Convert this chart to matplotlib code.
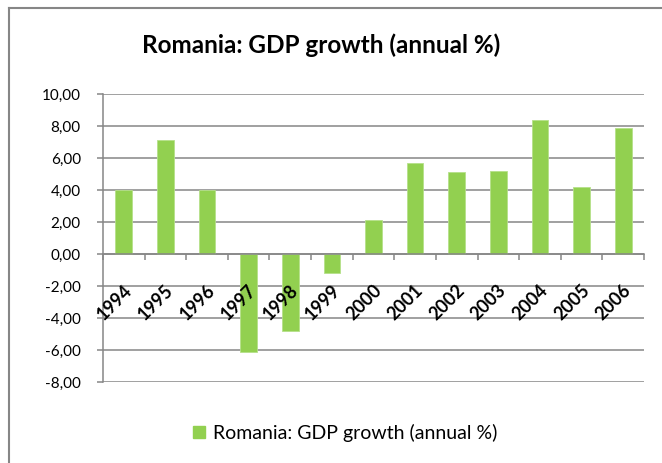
import numpy as np
import matplotlib.pyplot as plt
from matplotlib.lines import Line2D
from matplotlib.patches import Patch

years = ["1994", "1995", "1996", "1997", "1998", "1999", "2000",
         "2001", "2002", "2003", "2004", "2005", "2006"]
growth = [4.0, 7.1, 4.0, -6.1, -4.8, -1.2, 2.1, 5.7, 5.1, 5.2, 8.4, 4.2, 7.9]
y_ticks = [-8, -6, -4, -2, 0, 2, 4, 6, 8, 10]

GREEN = "#92D050"
GRID = "#868686"
plt.rcParams["font.family"] = ["Lato", "DejaVu Sans"]

W, H = 662, 463
fig = plt.figure(figsize=(W / 100, H / 100), dpi=100)
ax = fig.add_axes([103 / W, 1 - 382 / H, (644 - 103) / W, (382 - 94) / H])

x = np.arange(len(years))
# gridlines behind the bars, axis (and its labels) on top
for v in y_ticks:
    ax.axhline(v, color=GRID, lw=1.1, zorder=0.5)
ax.bar(x, growth, width=0.4, color=GREEN, edgecolor="#b5e08a", linewidth=0.6, zorder=2)
ax.set_axisbelow(False)

ax.set_xlim(-0.5, len(years) - 0.5)
ax.set_ylim(-8, 10)
ax.set_yticks(y_ticks)
ax.set_yticklabels([f"{v:.2f}".replace(".", ",") for v in y_ticks], fontsize=11)
ax.tick_params(axis="y", length=4, color=GRID, width=1.1, pad=12)

# category axis crosses at zero
for s in ["top", "right"]:
    ax.spines[s].set_visible(False)
ax.spines["left"].set_color(GRID)
ax.spines["left"].set_linewidth(1.1)
ax.spines["bottom"].set_position(("data", 0))
ax.spines["bottom"].set_color(GRID)
ax.spines["bottom"].set_linewidth(1.1)
ax.set_xticks(np.arange(-0.5, len(years), 1))
ax.set_xticklabels([])
ax.tick_params(axis="x", which="major", length=4, color=GRID, width=1.1)
ax.set_xticks(x - 0.02, minor=True)
ax.set_xticklabels(years, minor=True, rotation=45, ha="right", va="top",
                   rotation_mode="anchor", fontsize=13, fontweight="bold")
ax.tick_params(axis="x", which="minor", length=0, pad=20)

fig.text(321 / W, 1 - 45 / H, "Romania: GDP growth (annual %)", ha="center",
         va="center", fontsize=17.5, fontweight="bold")

fig.legend(handles=[Patch(color=GREEN, label="Romania: GDP growth (annual %)")],
           loc="center", bbox_to_anchor=(345 / W, 1 - 433 / H), frameon=False,
           fontsize=14, handlelength=0.6, handleheight=0.6, handletextpad=0.4)

# chart border (top and left visible)
fig.add_artist(Line2D([9 / W, 1], [1 - 8 / H, 1 - 8 / H], transform=fig.transFigure,
                      color=GRID, lw=1.5))
fig.add_artist(Line2D([9 / W, 9 / W], [0, 1 - 8 / H], transform=fig.transFigure,
                      color=GRID, lw=1.5))

fig.savefig("out.png", dpi=100)
